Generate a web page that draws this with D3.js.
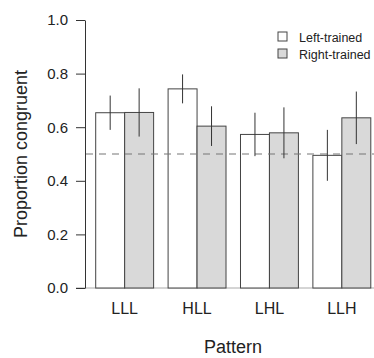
<!DOCTYPE html>
<html>
<head>
<meta charset="utf-8">
<script src="https://cdn.jsdelivr.net/npm/d3@7"></script>
<style>
  html, body { margin: 0; padding: 0; background: #fff; }
  svg { display: block; font-family: "Liberation Sans", Arial, Helvetica, sans-serif; }
</style>
</head>
<body>
<svg id="chart" width="374" height="358"></svg>
<script>
// Patterns on the x axis and the two training groups
const patterns = ["LLL", "HLL", "LHL", "LLH"];
const seriesNames = ["Left-trained", "Right-trained"];
const seriesFill = ["#ffffff", "#d9d9d9"];

// Mean proportion congruent per pattern, and error-bar half widths
const leftMean  = [0.654, 0.743, 0.573, 0.495];
const rightMean = [0.655, 0.604, 0.579, 0.635];
const leftErr   = [0.064, 0.054, 0.081, 0.095];
const rightErr  = [0.090, 0.074, 0.095, 0.098];

const yTicks = [0, 0.2, 0.4, 0.6, 0.8, 1.0];
const chance = 0.5;

const svg = d3.select("#chart");
const ink = "#222";

const y = d3.scaleLinear().domain([0, 1]).range([288, 20]);
const x = d3.scaleBand().domain(patterns).range([95.7, 370.8])
  .paddingInner(0.2).paddingOuter(0);
const xs = d3.scaleBand().domain(seriesNames).range([0, x.bandwidth()]).padding(0);

const rows = [];
patterns.forEach((p, i) => {
  rows.push({ p, s: seriesNames[0], fill: seriesFill[0], m: leftMean[i], e: leftErr[i] });
  rows.push({ p, s: seriesNames[1], fill: seriesFill[1], m: rightMean[i], e: rightErr[i] });
});

// Baseline at zero
svg.append("line")
  .attr("x1", 76).attr("x2", 374)
  .attr("y1", y(0)).attr("y2", y(0))
  .attr("stroke", "#aaa").attr("stroke-width", 1);

// Bars
svg.append("g").selectAll("rect").data(rows).join("rect")
  .attr("x", d => x(d.p) + xs(d.s))
  .attr("y", d => y(d.m))
  .attr("width", xs.bandwidth())
  .attr("height", d => y(0) - y(d.m))
  .attr("fill", d => d.fill)
  .attr("stroke", "#444")
  .attr("stroke-width", 1);

// Chance level
svg.append("line")
  .attr("x1", 86).attr("x2", 374)
  .attr("y1", y(chance)).attr("y2", y(chance))
  .attr("stroke", "#777").attr("stroke-width", 1.2)
  .attr("stroke-dasharray", "7,6");

// Error bars
svg.append("g").selectAll("line").data(rows).join("line")
  .attr("x1", d => x(d.p) + xs(d.s) + xs.bandwidth() / 2)
  .attr("x2", d => x(d.p) + xs(d.s) + xs.bandwidth() / 2)
  .attr("y1", d => y(d.m + d.e))
  .attr("y2", d => y(d.m - d.e))
  .attr("stroke", "#333").attr("stroke-width", 1);

// Y axis
const yAxis = svg.append("g")
  .attr("transform", "translate(85,0)")
  .call(d3.axisLeft(y).tickValues(yTicks).tickFormat(d3.format(".1f"))
    .tickSize(9).tickPadding(8).tickSizeOuter(0));
yAxis.select(".domain").attr("stroke", "#333");
yAxis.selectAll(".tick line").attr("stroke", "#333");
yAxis.selectAll(".tick text").attr("fill", ink)
  .style("font-size", "15px").style("font-family", "Liberation Sans, Arial, sans-serif");

// X tick labels
svg.append("g").selectAll("text").data(patterns).join("text")
  .attr("x", d => x(d) + x.bandwidth() / 2)
  .attr("y", 314)
  .attr("text-anchor", "middle")
  .attr("fill", ink)
  .style("font-size", "16px")
  .text(d => d);

// Axis titles
svg.append("text")
  .attr("x", 233).attr("y", 353)
  .attr("text-anchor", "middle")
  .attr("fill", ink).style("font-size", "18px")
  .text("Pattern");

svg.append("text")
  .attr("transform", `translate(27,${(20 + 288) / 2}) rotate(-90)`)
  .attr("text-anchor", "middle")
  .attr("fill", ink).style("font-size", "18px")
  .text("Proportion congruent");

// Legend
const legend = svg.append("g").selectAll("g").data(seriesNames).join("g")
  .attr("transform", (d, i) => `translate(278,${32 + i * 17})`);
legend.append("rect")
  .attr("width", 9).attr("height", 9)
  .attr("fill", (d, i) => seriesFill[i])
  .attr("stroke", "#444").attr("stroke-width", 1);
legend.append("text")
  .attr("x", 21).attr("y", 9.5)
  .attr("fill", ink).style("font-size", "12.5px")
  .text(d => d);
</script>
</body>
</html>
